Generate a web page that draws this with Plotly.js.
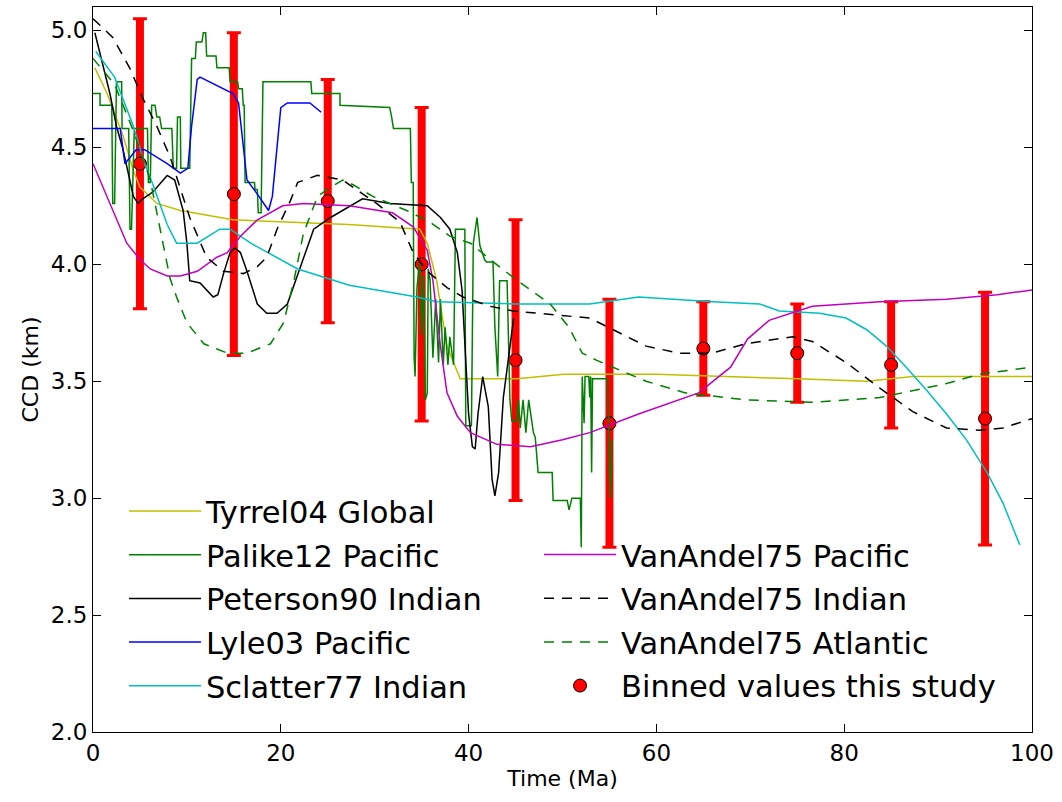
<!DOCTYPE html>
<html><head><meta charset="utf-8">
<script src="https://cdn.plot.ly/plotly-3.0.1.min.js"></script>
<style>html,body{margin:0;padding:0;background:#fff}#chart{width:1062px;height:802px}</style>
</head><body><div id="chart"></div>
<script>
// ---- data ----
const tyrrelX = [0.2,1.5,3.2,4.3,5.0,6.8,9.3,14.9,27.2,34.8,35.6,36.6,37.7,39.1,42.2,45.2,50.1,52.9,60,75,82.4,87.3,100];
const tyrrelY = [4.84,4.73,4.55,4.40,4.33,4.26,4.23,4.19,4.17,4.15,4.09,3.93,3.65,3.51,3.51,3.51,3.53,3.53,3.53,3.51,3.50,3.52,3.52];

const palikeX = [0,0.75,0.75,2.0,2.1,2.3,2.5,3.05,3.1,3.8,3.94,4.1,4.4,5.8,5.9,6.1,6.25,6.6,6.8,7.1,7.3,8.4,8.55,8.9,9.0,9.3,9.35,10.3,10.5,10.9,11.0,11.6,11.75,12.0,12.1,13.1,13.2,14.5,14.6,15.4,15.5,15.9,16.0,16.1,16.2,17.2,17.25,17.5,17.6,17.9,18.1,23.2,23.3,26.3,26.3,31.6,31.8,32.0,33.8,33.9,34.1,34.2,34.3,34.5,34.8,35.0,35.2,35.4,35.6,35.7,35.9,36.2,36.5,36.8,37.0,37.3,37.5,37.8,38.0,38.4,38.6,39.6,39.7,40.3,40.5,40.9,41.2,41.7,41.9,42.6,42.8,43.1,43.3,44.1,44.4,44.6,45.1,45.3,45.5,45.8,46.1,46.4,46.9,47.1,47.4,48.9,49.0,50.5,50.7,51.0,51.9,52.0,52.1,52.3,52.4,52.8,52.9,53.0,53.1,53.2,54.8,55.1,55.3];
const palikeY = [4.73,4.73,4.68,4.68,4.26,4.26,4.78,4.78,4.58,4.58,4.15,4.15,4.58,4.58,4.35,4.35,4.68,4.68,4.63,4.63,4.58,4.58,4.41,4.41,4.63,4.63,4.41,4.41,4.88,4.88,4.95,4.95,4.99,4.99,4.89,4.89,4.84,4.84,4.78,4.78,4.75,4.75,4.68,4.68,4.35,4.35,4.32,4.32,4.22,4.22,4.78,4.78,4.73,4.73,4.68,4.67,4.63,4.58,4.58,4.35,4.35,3.60,3.52,3.90,4.01,3.70,3.95,3.42,3.45,3.98,3.93,3.60,3.85,3.58,3.85,3.57,3.73,3.57,3.69,3.57,4.15,4.15,3.31,3.31,4.09,4.20,4.08,4.02,4.01,4.01,3.73,3.52,3.93,3.93,3.42,3.33,3.33,3.42,3.30,3.42,3.28,3.42,3.28,3.26,3.11,3.11,2.99,2.99,2.95,3.00,3.00,2.79,3.52,3.32,3.52,3.52,3.43,3.52,3.11,3.51,3.51,3.00,3.25];

const petersonX = [0.2,1.8,2.5,3.2,4.3,4.8,5.3,6.4,7.9,8.7,9.6,10.0,10.3,11.4,12.8,13.3,13.9,14.6,15.1,15.7,16.4,17.5,18.5,19.6,20.7,21.7,22.8,23.5,25.3,28.7,31.6,35.6,37.0,38.0,38.8,39.3,39.6,40.0,40.4,40.7,41.0,41.5,42.1,42.5,42.8,43.2,43.7,44.4,44.8];
const petersonY = [4.99,4.73,4.59,4.49,4.29,4.26,4.28,4.31,4.38,4.36,4.23,4.09,3.93,3.92,3.86,3.87,3.96,4.05,4.07,4.05,3.97,3.83,3.79,3.79,3.83,3.94,4.07,4.15,4.20,4.28,4.26,4.25,4.20,4.15,4.05,3.89,3.65,3.36,3.22,3.21,3.36,3.52,3.39,3.08,3.01,3.11,3.43,3.65,3.77];

const lyleX = [0,2.9,3.4,4.6,5.5,7.9,9.3,10.1,10.5,11.1,11.4,14.9,15.5,16.0,16.4,17.5,18.7,19.1,19.6,20.0,20.7,23.1,24.3];
const lyleY = [4.58,4.58,4.43,4.49,4.49,4.43,4.39,4.41,4.59,4.79,4.80,4.73,4.69,4.49,4.36,4.30,4.23,4.29,4.52,4.67,4.69,4.69,4.65];

const sclatterX = [0.3,2.3,4.3,5.5,6.3,7.9,8.9,11.1,13.5,14.6,16.8,21.8,27.3,34.5,36.6,45,52.9,58.1,66,71,73.1,77.4,80.2,82.4,84.5,86.6,88.8,90.9,93.0,95.2,96.9,98.7];
const sclatterY = [4.91,4.80,4.59,4.43,4.35,4.17,4.09,4.09,4.15,4.15,4.09,3.98,3.91,3.86,3.84,3.83,3.83,3.86,3.84,3.83,3.80,3.79,3.77,3.72,3.65,3.56,3.46,3.36,3.25,3.11,2.98,2.80];

const vaPacX = [0,2.1,3.6,5.0,6.1,7.9,9.3,11.1,13.2,14.3,15.7,17.5,20.2,22.4,27.3,31.9,34.1,35.6,36.2,37.0,37.7,38.8,40.2,43.0,46.6,50.0,52.9,58.1,64.5,67.9,69.7,72,76.6,83.8,90.9,96.3,100];
const vaPacY = [4.43,4.23,4.09,4.02,3.98,3.95,3.95,3.97,4.03,4.05,4.12,4.19,4.25,4.26,4.25,4.22,4.16,4.06,3.93,3.65,3.45,3.35,3.28,3.23,3.22,3.25,3.28,3.36,3.45,3.56,3.68,3.76,3.82,3.84,3.85,3.87,3.89];

const vaIndX = [0,2.1,3.9,5.3,6.8,8.2,10.3,12.1,13.9,16.0,17.5,18.5,19.6,21.0,21.8,23.9,25.3,26.6,30.2,32.7,34.1,35.6,37.7,39.4,42.3,44.8,52.9,55.4,58.9,62.4,65.9,69.5,74.5,76.6,80.2,83.8,87.3,90.9,94.4,96.9,100];
const vaIndY = [5.05,4.97,4.84,4.71,4.59,4.46,4.20,4.03,3.97,3.96,3.99,4.03,4.15,4.27,4.35,4.38,4.37,4.36,4.26,4.18,4.05,3.97,3.90,3.86,3.82,3.80,3.77,3.72,3.65,3.62,3.62,3.66,3.69,3.67,3.58,3.47,3.37,3.30,3.29,3.30,3.34];

const vaAtlX = [0,2.3,4.3,6.1,8.2,8.9,10.0,11.8,14.3,16.4,18.9,20.3,21.4,22.4,23.9,25.3,26.6,27.7,29.8,33.4,35.9,38.0,40.2,42.3,45.2,48.7,50.7,52.1,53.6,58.9,63.1,69.5,76.6,83.8,90.9,94.4,100];
const vaAtlY = [4.88,4.77,4.57,4.36,3.94,3.86,3.75,3.66,3.62,3.62,3.66,3.75,3.93,4.13,4.29,4.33,4.36,4.34,4.29,4.23,4.18,4.12,4.09,4.02,3.93,3.83,3.73,3.62,3.59,3.50,3.45,3.42,3.41,3.43,3.49,3.53,3.56];

const binX = [5,15,25,35,45,55,65,75,85,95];
const binY = [4.43,4.30,4.27,4.00,3.59,3.32,3.64,3.62,3.57,3.34];
const binErr = [0.62,0.69,0.52,0.67,0.60,0.53,0.20,0.21,0.27,0.54];

const xTicks = [0,20,40,60,80,100];
const yTicks = [2.0,2.5,3.0,3.5,4.0,4.5,5.0];

// ---- traces ----
const LW = 1.5;
function line(name, x, y, color, dash, legend, rank) {
  return {type:'scatter', mode:'lines', name:name, x:x, y:y,
    line:{color:color, width:LW, dash:dash||'solid'}, legend:legend, legendrank:rank, legendgroup:name};
}
const data = [
  {type:'scatter', mode:'markers', x:binX, y:binY, showlegend:false, hoverinfo:'skip',
   marker:{size:1, color:'rgba(0,0,0,0)'},
   error_y:{type:'data', array:binErr, visible:true, color:'#ff0000', thickness:8, width:0}},
  {type:'scatter', mode:'markers', name:'Binned values this study', x:binX, y:binY, legend:'legend2', legendrank:4, legendgroup:'bin',
   marker:{size:13, color:'#ff0000', line:{color:'#000000', width:1}},
   error_y:{type:'data', array:binErr, visible:true, color:'#ff0000', thickness:3, width:7}},
  line('Tyrrel04 Global', tyrrelX, tyrrelY, '#bfbf00', 'solid', 'legend', 1),
  line('Palike12 Pacific', palikeX, palikeY, '#008000', 'solid', 'legend', 2),
  line('Peterson90 Indian', petersonX, petersonY, '#000000', 'solid', 'legend', 3),
  line('Lyle03 Pacific', lyleX, lyleY, '#0000ff', 'solid', 'legend', 4),
  line('Sclatter77 Indian', sclatterX, sclatterY, '#00bfbf', 'solid', 'legend', 5),
  line('VanAndel75 Pacific', vaPacX, vaPacY, '#bf00bf', 'solid', 'legend2', 1),
  line('VanAndel75 Indian', vaIndX, vaIndY, '#000000', '10px,8px', 'legend2', 2),
  line('VanAndel75 Atlantic', vaAtlX, vaAtlY, '#008000', '10px,8px', 'legend2', 3)
];

const FONT = 'DejaVu Sans, Liberation Sans, sans-serif';
const axisCommon = {
  showgrid:false, zeroline:false, showline:true, linecolor:'#000', linewidth:1, mirror:'ticks',
  ticks:'inside', ticklen:8, tickwidth:1, tickcolor:'#000',
  tickfont:{family:FONT, size:23, color:'#000'}
};
const legendCommon = {
  font:{family:FONT, size:30.5, color:'#000'}, bgcolor:'rgba(0,0,0,0)', borderwidth:0,
  itemwidth:72, tracegroupgap:1, traceorder:'grouped', xanchor:'left', yanchor:'top', itemclick:false
};
const layout = {
  width:1062, height:802,
  margin:{l:93, r:30, t:7, b:70},
  paper_bgcolor:'#fff', plot_bgcolor:'#fff',
  showlegend:true,
  xaxis:Object.assign({}, axisCommon, {range:[0,100], tickvals:xTicks, ticktext:xTicks.map(String),
    title:{text:'Time (Ma)', font:{family:FONT, size:22, color:'#000'}, standoff:6}}),
  yaxis:Object.assign({}, axisCommon, {range:[2.0,5.1], tickvals:yTicks, ticktext:yTicks.map(v=>v.toFixed(1)),
    title:{text:'CCD (km)', font:{family:FONT, size:22, color:'#000'}, standoff:6}}),
  legend:Object.assign({}, legendCommon, {x:0.033, y:0.341}),
  legend2:Object.assign({}, legendCommon, {x:0.475, y:0.281})
};
Plotly.newPlot('chart', data, layout, {staticPlot:true});
</script></body></html>
